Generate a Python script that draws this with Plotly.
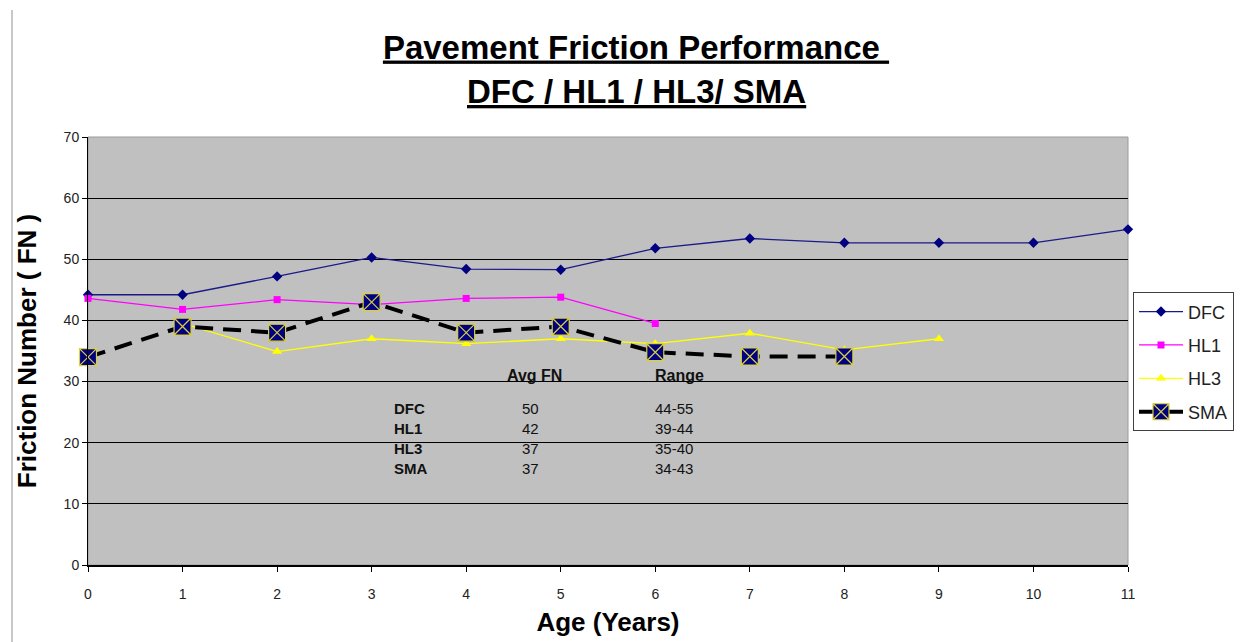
import plotly.graph_objects as go

# ---- data ----
dfc_age = [0, 1, 2, 3, 4, 5, 6, 7, 8, 9, 10, 11]
dfc_fn = [44.2, 44.2, 47.2, 50.3, 48.4, 48.3, 51.8, 53.4, 52.7, 52.7, 52.7, 54.9]

hl1_age = [0, 1, 2, 3, 4, 5, 6]
hl1_fn = [43.6, 41.8, 43.4, 42.6, 43.6, 43.8, 39.5]

hl3_age = [1, 2, 3, 4, 5, 6, 7, 8, 9]
hl3_fn = [39.5, 34.9, 37.0, 36.2, 37.0, 36.2, 37.9, 35.2, 37.0]

sma_age = [0, 1, 2, 3, 4, 5, 6, 7, 8]
sma_fn = [34.0, 39.0, 38.0, 43.0, 38.0, 39.0, 34.8, 34.1, 34.1]

table_labels = ["DFC", "HL1", "HL3", "SMA"]
table_avg = ["50", "42", "37", "37"]
table_range = ["44-55", "39-44", "35-40", "34-43"]

x_ticks = list(range(0, 12))
y_ticks = list(range(0, 71, 10))

FONT = "Liberation Sans, Arial, sans-serif"

fig = go.Figure()

fig.add_trace(go.Scatter(
    x=dfc_age, y=dfc_fn, name="DFC", mode="lines+markers", legendgroup="a",
    line=dict(color="#1a1a88", width=1.3),
    marker=dict(symbol="diamond", size=8, color="#000080"),
    cliponaxis=False))
fig.add_trace(go.Scatter(
    x=hl1_age, y=hl1_fn, name="HL1", mode="lines+markers", legendgroup="b",
    line=dict(color="#FF00FF", width=1.3),
    marker=dict(symbol="square", size=7, color="#FF00FF"),
    cliponaxis=False))
fig.add_trace(go.Scatter(
    x=hl3_age, y=hl3_fn, name="HL3", mode="lines+markers", legendgroup="c",
    line=dict(color="#FFFF00", width=1.3),
    marker=dict(symbol="triangle-up", size=9, color="#FFFF00"),
    cliponaxis=False))
fig.add_trace(go.Scatter(
    x=sma_age, y=sma_fn, name="SMA", mode="lines+markers", legendgroup="d",
    line=dict(color="#000000", width=4, dash="18px,10px"),
    marker=dict(symbol="square-x", size=17, color="#000080",
                line=dict(color="#d8d040", width=1.2)),
    cliponaxis=False))

# summary table inside the plot
ann = []
ann.append(dict(x=4.72, y=31.0, text="<b>Avg FN</b>", showarrow=False,
                xanchor="center", yanchor="middle",
                font=dict(family=FONT, size=16, color="#111")))
ann.append(dict(x=5.98, y=31.0, text="<b>Range</b>", showarrow=False,
                xanchor="left", yanchor="middle",
                font=dict(family=FONT, size=16, color="#111")))
row_y = [25.6, 22.3, 19.0, 15.75]
for lab, avg, rng, yy in zip(table_labels, table_avg, table_range, row_y):
    ann.append(dict(x=3.213, y=yy, text="<b>" + lab + "</b>", showarrow=False,
                    xanchor="left", yanchor="middle",
                    font=dict(family=FONT, size=15, color="#111")))
    ann.append(dict(x=4.68, y=yy, text=avg, showarrow=False,
                    xanchor="center", yanchor="middle",
                    font=dict(family=FONT, size=15, color="#111")))
    ann.append(dict(x=5.98, y=yy, text=rng, showarrow=False,
                    xanchor="left", yanchor="middle",
                    font=dict(family=FONT, size=15, color="#111")))

# second title line
ann.append(dict(x=(636 - 88) / 1040, y=(565 - 91) / 428, xref="paper", yref="paper",
                text="<b><u>DFC / HL1 / HL3/ SMA</u></b>", showarrow=False,
                xanchor="center", yanchor="middle",
                font=dict(family=FONT, size=33, color="#000")))

fig.update_layout(
    width=1240, height=634,
    margin=dict(l=80, r=120, t=129, b=77, autoexpand=False),
    paper_bgcolor="white",
    plot_bgcolor="#C0C0C0",
    font=dict(family=FONT, color="#111"),
    title=dict(text="<b><u>Pavement Friction Performance&nbsp;</u></b>",
               x=628 / 1240, xanchor="center", y=1 - 39 / 634, yanchor="middle",
               font=dict(family=FONT, size=33, color="#000")),
    showlegend=True,
    legend=dict(x=1.0048, xanchor="left", y=0.637, yanchor="top",
                bgcolor="white", bordercolor="#404040", borderwidth=1,
                font=dict(family=FONT, size=18, color="#222"),
                traceorder="grouped", tracegroupgap=7, itemwidth=44),
    annotations=ann,
    shapes=[
        dict(type="rect", xref="paper", yref="paper", x0=0, x1=1, y0=0, y1=1,
             line=dict(color="#9a9a9a", width=1), layer="below"),
        dict(type="line", xref="paper", yref="paper",
             x0=(12 - 88) / 1040, x1=(12 - 88) / 1040,
             y0=(565 - 650) / 428, y1=(565 - 10) / 428,
             line=dict(color="#c8c8c8", width=2)),
    ],
)

fig.update_xaxes(
    range=[0, 11], tickvals=x_ticks, ticktext=[str(v) for v in x_ticks],
    showgrid=False, zeroline=False,
    showline=True, linecolor="#000", linewidth=2,
    ticks="outside", ticklen=5, tickcolor="#000", tickwidth=1,
    ticklabelstandoff=10,
    tickfont=dict(family=FONT, size=14, color="#222"),
    title=dict(text="<b>Age (Years)</b>", standoff=12,
               font=dict(family=FONT, size=26, color="#000")),
)
fig.update_yaxes(
    range=[0, 70], tickvals=y_ticks, ticktext=[str(v) for v in y_ticks],
    showgrid=True, gridcolor="#000", gridwidth=1, zeroline=False,
    showline=True, linecolor="#000", linewidth=1,
    ticks="outside", ticklen=5, tickcolor="#000", tickwidth=1,
    tickfont=dict(family=FONT, size=14, color="#222"),
    title=dict(text="<b>Friction Number ( FN )</b>", standoff=19,
               font=dict(family=FONT, size=26, color="#000")),
)

fig.write_html("out.html")
